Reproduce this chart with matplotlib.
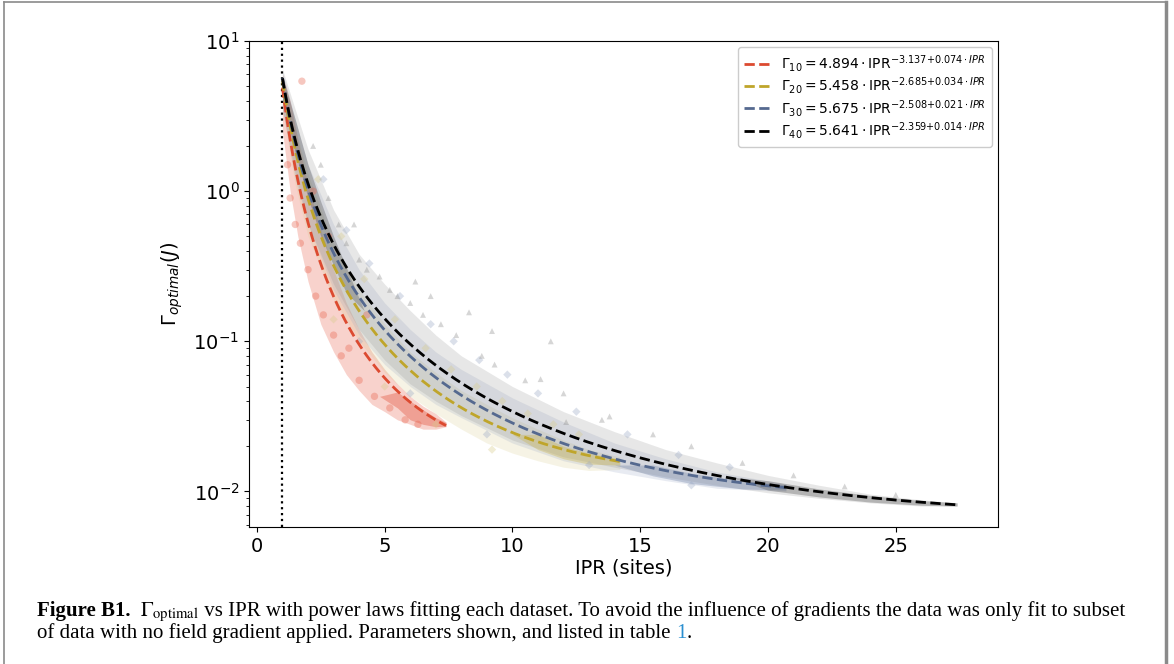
import numpy as np
import matplotlib
matplotlib.use("Agg")
import matplotlib.pyplot as plt
from matplotlib.lines import Line2D

# ---------------- data ----------------
labels = ["10", "20", "30", "40"]
fit_a = [4.894, 5.458, 5.675, 5.641]
fit_b = [-3.137, -2.685, -2.508, -2.359]
fit_c = [0.074, 0.034, 0.021, 0.014]
fit_xmin = [1.0, 1.0, 1.0, 1.0]
fit_xmax = [7.4, 14.2, 20.7, 27.4]
colors = ["#dc4a30", "#bfa52a", "#55698f", "#000000"]
markers = ["o", "D", "D", "^"]

# dense point-cloud envelopes (x, lower, upper)
red_x = [1.0, 1.3, 1.6, 2.0, 2.5, 3.0, 3.5, 4.0, 4.5, 5.0, 5.5, 6.0, 6.5, 7.0, 7.4]
red_lo = [2.5, 1.0, 0.5, 0.25, 0.13, 0.085, 0.06, 0.047, 0.038, 0.034, 0.030, 0.028, 0.026, 0.026, 0.027]
red_hi = [6.0, 4.0, 2.2, 1.1, 0.55, 0.30, 0.18, 0.12, 0.085, 0.065, 0.052, 0.043, 0.037, 0.033, 0.029]

yel_x = [1.0, 1.5, 2.0, 3.0, 4.0, 5.0, 6.0, 7.0, 8.0, 9.0, 10.0, 11.0, 12.0, 13.0, 14.2]
yel_lo = [3.5, 1.1, 0.5, 0.19, 0.10, 0.062, 0.043, 0.033, 0.026, 0.021, 0.018, 0.016, 0.0145, 0.0138, 0.0140]
yel_hi = [6.0, 2.6, 1.3, 0.45, 0.22, 0.13, 0.085, 0.062, 0.047, 0.038, 0.031, 0.026, 0.022, 0.019, 0.017]

blu_x = [1.0, 1.5, 2.0, 3.0, 4.0, 5.0, 6.0, 7.0, 8.0, 10.0, 12.0, 14.0, 16.0, 18.0, 20.7]
blu_lo = [3.5, 1.2, 0.6, 0.22, 0.11, 0.07, 0.05, 0.038, 0.031, 0.021, 0.016, 0.0135, 0.0118, 0.0105, 0.0100]
blu_hi = [6.2, 3.0, 1.5, 0.60, 0.30, 0.18, 0.12, 0.085, 0.065, 0.042, 0.029, 0.021, 0.0165, 0.0135, 0.0112]

gry_x = [1.0, 1.5, 2.0, 3.0, 4.0, 5.0, 6.0, 7.0, 8.0, 10.0, 12.0, 14.0, 16.0, 18.0, 20.0, 22.0, 24.0, 26.0, 27.4]
gry_lo = [3.5, 1.3, 0.6, 0.24, 0.12, 0.075, 0.052, 0.040, 0.032, 0.022, 0.017, 0.0145, 0.0125, 0.011, 0.0098, 0.0090, 0.0084, 0.0080, 0.0080]
gry_hi = [6.5, 3.5, 1.9, 0.75, 0.38, 0.24, 0.16, 0.11, 0.08, 0.05, 0.034, 0.025, 0.019, 0.0155, 0.0128, 0.0110, 0.0096, 0.0088, 0.0084]

# denser cores of the clouds
red_cx = [4.8, 5.5, 6.0, 6.5, 7.0, 7.4]
red_clo = [0.043, 0.036, 0.030, 0.028, 0.027, 0.0272]
red_chi = [0.043, 0.046, 0.040, 0.035, 0.031, 0.0288]
yel_cx = [10.0, 11.0, 12.0, 13.0, 14.2]
yel_clo = [0.024, 0.019, 0.0165, 0.0152, 0.0150]
yel_chi = [0.024, 0.024, 0.020, 0.018, 0.0165]
blu_cx = [14.0, 15.5, 17.0, 19.0, 20.7]
blu_clo = [0.0150, 0.0127, 0.0113, 0.0104, 0.0102]
blu_chi = [0.0150, 0.0150, 0.0132, 0.0118, 0.0111]
gry_cx = [1.0, 1.5, 2.0, 2.5, 3.0, 3.5, 4.2]
gry_clo = [4.0, 1.8, 0.9, 0.5, 0.32, 0.21, 0.16]
gry_chi = [5.8, 3.0, 1.5, 0.85, 0.50, 0.31, 0.16]
gry_tx = [18.5, 20.0, 22.0, 24.0, 26.0, 27.4]
gry_tlo = [0.0125, 0.0102, 0.0092, 0.0085, 0.0081, 0.0080]
gry_thi = [0.0125, 0.0118, 0.0104, 0.0094, 0.0087, 0.0084]

# scattered individual points
red_px = [1.2, 1.3, 1.5, 1.7, 2.0, 2.3, 2.6, 3.0, 3.3, 3.6, 4.0, 4.6, 5.2, 5.8, 6.3, 1.76, 2.2, 2.8, 4.3]
red_py = [1.5, 0.9, 0.6, 0.45, 0.30, 0.20, 0.15, 0.11, 0.08, 0.09, 0.055, 0.043, 0.036, 0.030, 0.028, 5.4, 1.0, 0.5, 0.15]

yel_px = [2.4, 3.3, 4.2, 5.4, 6.6, 7.6, 8.6, 9.6, 10.6, 11.6, 12.6, 3.0, 5.0, 7.0, 9.2]
yel_py = [1.2, 0.5, 0.26, 0.14, 0.09, 0.065, 0.05, 0.04, 0.033, 0.028, 0.024, 0.14, 0.05, 0.028, 0.019]

blu_px = [2.6, 3.5, 4.4, 5.6, 6.8, 7.7, 8.7, 9.8, 11.0, 12.5, 14.5, 16.5, 18.5, 4.0, 6.0, 9.0, 13.0, 17.0]
blu_py = [1.2, 0.55, 0.33, 0.2, 0.13, 0.1, 0.075, 0.06, 0.045, 0.034, 0.024, 0.0175, 0.0145, 0.1, 0.045, 0.024, 0.015, 0.011]

gry_px = [2.2, 2.5, 2.8, 3.2, 3.5, 3.8, 4.0, 4.3, 4.8, 5.2, 5.5, 6.0, 6.2, 6.5, 6.8, 7.2, 7.8, 8.3, 8.8, 9.2,
          9.3, 10.5, 11.1, 11.5, 12.0, 12.1, 13.5, 13.8, 15.5, 17.0, 19.0, 21.0, 23.0, 25.0]
gry_py = [2.0, 1.5, 0.9, 0.6, 0.45, 0.6, 0.35, 0.30, 0.27, 0.22, 0.20, 0.18, 0.25, 0.15, 0.20, 0.13, 0.11, 0.156, 0.08, 0.117,
          0.07, 0.055, 0.056, 0.10, 0.045, 0.029, 0.030, 0.0316, 0.024, 0.020, 0.0155, 0.0128, 0.0108, 0.0095]

bands = [(red_x, red_lo, red_hi), (yel_x, yel_lo, yel_hi), (blu_x, blu_lo, blu_hi), (gry_x, gry_lo, gry_hi)]
cores = [(red_cx, red_clo, red_chi, 0), (yel_cx, yel_clo, yel_chi, 1), (blu_cx, blu_clo, blu_chi, 2),
         (gry_cx, gry_clo, gry_chi, 3), (gry_tx, gry_tlo, gry_thi, 3)]
points = [(red_px, red_py), (yel_px, yel_py), (blu_px, blu_py), (gry_px, gry_py)]
band_colors = ["#e8604a", "#d8cc8a", "#9aa8c4", "#8a8a8a"]
core_colors = ["#e0452c", "#c8b24a", "#6f81a6", "#555555"]
band_alpha = [0.28, 0.22, 0.22, 0.20]

xticks = [0, 5, 10, 15, 20, 25]

# ---------------- figure ----------------
W, H = 1174, 664
fig = plt.figure(figsize=(W / 100, H / 100), dpi=100)
fig.patch.set_facecolor("white")

# page frame
fig.add_artist(Line2D([4 / W, 4 / W], [0, 1 - 2 / H], transform=fig.transFigure, color="#8a8a8a", lw=1.2))
fig.add_artist(Line2D([4 / W, 1166 / W], [1 - 2 / H, 1 - 2 / H], transform=fig.transFigure, color="#8a8a8a", lw=1.2))
fig.add_artist(Line2D([1166 / W, 1166 / W], [0, 1 - 2 / H], transform=fig.transFigure, color="#8a8a8a", lw=2.5))

ax = fig.add_axes([249 / W, 1 - 527 / H, (998 - 249) / W, (527 - 41) / H])

for i, (bx, blo, bhi) in enumerate(bands):
    ax.fill_between(bx, blo, bhi, color=band_colors[i], alpha=band_alpha[i], lw=0, zorder=1 + i * 0.1)
for (cx, clo, chi, ci) in cores:
    ax.fill_between(cx, clo, chi, color=core_colors[ci], alpha=0.35, lw=0, zorder=1.5)
for i, (px, py) in enumerate(points):
    ax.scatter(px, py, s=28 if i == 0 else 18, marker=markers[i], color=band_colors[i],
               alpha=0.35, edgecolors="none", zorder=2)

for i in range(4):
    xs = np.linspace(fit_xmin[i], fit_xmax[i], 300)
    ys = fit_a[i] * xs ** (fit_b[i] + fit_c[i] * xs)
    lab = (r"$\Gamma_{%s} = %.3f \cdot \mathrm{IPR}^{%.3f{+}%.3f \cdot IPR}$"
           % (labels[i], fit_a[i], fit_b[i], fit_c[i]))
    ax.plot(xs, ys, ls="--", color=colors[i], lw=2.0, label=lab, zorder=5)

ax.axvline(1.0, color="black", ls=":", lw=1.6, zorder=4)

ax.set_yscale("log")
ax.set_ylim(0.0058, 10)
ax.set_xlim(-0.31, 29.0)
ax.set_xticks(xticks)
ax.tick_params(axis="both", which="major", labelsize=14)
ax.set_xlabel("IPR (sites)", fontsize=14, labelpad=2)
ax.set_ylabel(r"$\Gamma_{optimal}(J)$", fontsize=14, labelpad=6)

leg = ax.legend(loc="upper right", fontsize=10, framealpha=1.0, borderaxespad=0.45,
                labelspacing=0.1, borderpad=0.4, handlelength=1.9)

# ---------------- caption ----------------
fig.canvas.draw()
renderer = fig.canvas.get_renderer()
cap_fs = 15.0
serif = "Liberation Serif"

def put(x_px, y_px, s, **kw):
    t = fig.text(x_px / W, 1 - y_px / H, s, fontsize=cap_fs, family=serif, va="baseline", ha="left", **kw)
    bb = t.get_window_extent(renderer=renderer)
    return x_px + bb.width

y1 = 616
x = put(37, y1, "Figure B1.", weight="bold")
x = put(x + 10, y1, r"$\Gamma_{\mathrm{optimal}}$", math_fontfamily="stix")
x = put(x, y1, " vs IPR with power laws fitting each dataset. To avoid the influence of gradients the data was only fit to subset")
y2 = 638
x = put(37, y2, "of data with no field gradient applied. Parameters shown, and listed in table ")
x = put(x, y2, "1", color="#2a8fd0")
x = put(x, y2, ".")

fig.savefig("out.png", dpi=100, facecolor="white")
